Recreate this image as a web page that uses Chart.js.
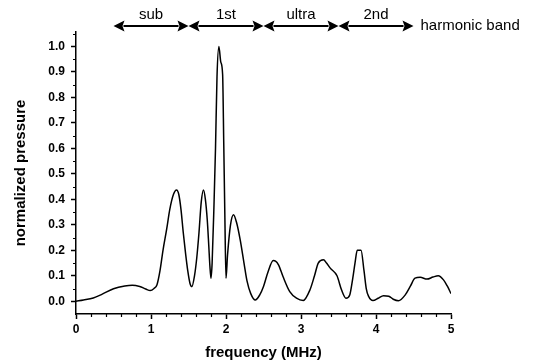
<!DOCTYPE html>
<html>
<head>
<meta charset="utf-8">
<script src="https://cdn.jsdelivr.net/npm/chart.js@4/dist/chart.umd.min.js"></script>
<style>
  html, body { margin: 0; padding: 0; background: #fff; }
  #wrap { width: 542px; height: 362px; }
</style>
</head>
<body>
<div id="wrap"><canvas id="chart" width="542" height="362"></canvas></div>
<script>
// frequency in MHz and normalized pressure
const freq = [0.00, 0.10, 0.23, 0.35, 0.50, 0.65, 0.75, 0.85, 0.93, 0.99,
  1.04, 1.08, 1.12, 1.16, 1.21, 1.25, 1.30, 1.34, 1.37, 1.40,
  1.43, 1.46, 1.49, 1.52, 1.545, 1.58, 1.61, 1.64, 1.67, 1.70,
  1.725, 1.75, 1.77, 1.785, 1.80, 1.815, 1.84, 1.86, 1.88, 1.905,
  1.93, 1.955, 1.97, 1.985, 2.00, 2.02, 2.06, 2.10, 2.14, 2.19,
  2.24, 2.28, 2.33, 2.39, 2.45, 2.50, 2.56, 2.63, 2.66, 2.70,
  2.76, 2.85, 2.94, 3.03, 3.12, 3.18, 3.23, 3.30, 3.34, 3.39,
  3.48, 3.54, 3.60, 3.65, 3.69, 3.72, 3.75, 3.80, 3.84, 3.87,
  3.90, 3.96, 4.03, 4.10, 4.17, 4.23, 4.30, 4.39, 4.46, 4.52,
  4.59, 4.68, 4.76, 4.83, 4.90, 4.95, 5.00];
const pressure = [0.000, 0.005, 0.013, 0.028, 0.049, 0.060, 0.063, 0.058, 0.048, 0.042,
  0.050, 0.065, 0.120, 0.200, 0.285, 0.360, 0.420, 0.437, 0.420, 0.360,
  0.270, 0.190, 0.120, 0.070, 0.058, 0.100, 0.170, 0.270, 0.390, 0.437,
  0.400, 0.320, 0.220, 0.140, 0.090, 0.150, 0.380, 0.600, 0.880, 1.000,
  0.940, 0.890, 0.620, 0.330, 0.090, 0.180, 0.300, 0.340, 0.310, 0.240,
  0.150, 0.080, 0.030, 0.005, 0.025, 0.058, 0.115, 0.160, 0.158, 0.143,
  0.097, 0.038, 0.012, 0.003, 0.045, 0.100, 0.150, 0.163, 0.150, 0.130,
  0.100, 0.045, 0.012, 0.025, 0.090, 0.150, 0.200, 0.200, 0.120, 0.050,
  0.020, 0.003, 0.012, 0.022, 0.020, 0.008, 0.002, 0.025, 0.060, 0.091,
  0.094, 0.087, 0.095, 0.100, 0.084, 0.060, 0.030];

const xTicks = [0, 1, 2, 3, 4, 5];
const yTicks = [0, 0.1, 0.2, 0.3, 0.4, 0.5, 0.6, 0.7, 0.8, 0.9, 1.0];
const xMinor = [0.2, 0.4, 0.6, 0.8, 1.2, 1.4, 1.6, 1.8, 2.2, 2.4, 2.6, 2.8,
  3.2, 3.4, 3.6, 3.8, 4.2, 4.4, 4.6, 4.8];
const yMinor = [0.05, 0.15, 0.25, 0.35, 0.45, 0.55, 0.65, 0.75, 0.85, 0.95, 1.05];

// harmonic bands along the top (MHz edges)
const bandLabels = ['sub', '1st', 'ultra', '2nd'];
const bandEdges = [0.5, 1.5, 2.5, 3.5, 4.5];

const points = freq.map((f, i) => ({ x: f, y: pressure[i] }));

// minor ticks + band arrows, drawn from the chart's own scales
const extrasPlugin = {
  id: 'extras',
  afterDraw(chart) {
    const ctx = chart.ctx;
    const xs = chart.scales.x, ys = chart.scales.y;
    ctx.save();
    ctx.strokeStyle = '#000';
    ctx.fillStyle = '#000';
    ctx.lineWidth = 1.2;

    ctx.beginPath();
    xMinor.forEach(v => {
      const px = Math.round(xs.getPixelForValue(v)) + 0.5;
      ctx.moveTo(px, xs.top);
      ctx.lineTo(px, xs.top + 3);
    });
    yMinor.forEach(v => {
      const py = Math.round(ys.getPixelForValue(v)) + 0.5;
      ctx.moveTo(ys.right, py);
      ctx.lineTo(ys.right - 3, py);
    });
    ctx.stroke();

    const ay = 26;
    const head = 11, half = 5.5;
    ctx.lineWidth = 2;
    for (let i = 0; i < bandLabels.length; i++) {
      const a = xs.getPixelForValue(bandEdges[i]);
      const b = xs.getPixelForValue(bandEdges[i + 1]);
      ctx.beginPath();
      ctx.moveTo(a + head - 1, ay);
      ctx.lineTo(b - head + 1, ay);
      ctx.stroke();
      ctx.beginPath();
      ctx.moveTo(a, ay);
      ctx.lineTo(a + head, ay - half);
      ctx.lineTo(a + head - 2, ay);
      ctx.lineTo(a + head, ay + half);
      ctx.closePath();
      ctx.moveTo(b, ay);
      ctx.lineTo(b - head, ay - half);
      ctx.lineTo(b - head + 2, ay);
      ctx.lineTo(b - head, ay + half);
      ctx.closePath();
      ctx.fill();

      ctx.font = '15px "Liberation Sans", Arial, sans-serif';
      ctx.textAlign = 'center';
      ctx.textBaseline = 'alphabetic';
      ctx.fillText(bandLabels[i], (a + b) / 2, 19);
    }
    const end = xs.getPixelForValue(bandEdges[bandEdges.length - 1]);
    ctx.font = '15px "Liberation Sans", Arial, sans-serif';
    ctx.textAlign = 'left';
    ctx.textBaseline = 'middle';
    ctx.fillText('harmonic band', end + 7, ay);
    ctx.restore();
  }
};

const tickFont = { family: '"Liberation Sans", Arial, sans-serif', size: 12, weight: 'bold' };
const titleFont = { family: '"Liberation Sans", Arial, sans-serif', size: 15, weight: 'bold' };

new Chart(document.getElementById('chart'), {
  type: 'line',
  data: {
    datasets: [{
      data: points,
      borderColor: '#000',
      borderWidth: 1.5,
      pointRadius: 0,
      fill: false,
      cubicInterpolationMode: 'monotone'
    }]
  },
  options: {
    responsive: false,
    animation: false,
    layout: { padding: { left: 0, top: 32, right: 91, bottom: 0 } },
    plugins: { legend: { display: false }, tooltip: { enabled: false } },
    scales: {
      x: {
        type: 'linear',
        min: 0,
        max: 5,
        afterBuildTicks: s => { s.ticks = xTicks.map(v => ({ value: v })); },
        afterFit: s => { s.height = 48; },
        border: { color: '#000', width: 1.5 },
        grid: { drawOnChartArea: false, tickLength: 5, tickColor: '#000', tickWidth: 1.5 },
        ticks: { color: '#000', font: tickFont, padding: 3, maxRotation: 0, callback: v => String(v) },
        title: { display: true, text: 'frequency (MHz)', color: '#000', font: titleFont, padding: { top: 4, bottom: 0 } }
      },
      y: {
        min: -0.05,
        max: 1.057,
        afterBuildTicks: s => { s.ticks = yTicks.map(v => ({ value: v })); },
        afterFit: s => { s.width = 76; },
        border: { color: '#000', width: 1.5 },
        grid: { drawOnChartArea: false, tickLength: 5, tickColor: '#000', tickWidth: 1.5 },
        ticks: { color: '#000', font: tickFont, padding: 6, callback: v => Number(v).toFixed(1) },
        title: { display: true, text: 'normalized pressure', color: '#000', font: titleFont, padding: { top: 12, bottom: 0 } }
      }
    }
  },
  plugins: [extrasPlugin]
});
</script>
</body>
</html>
